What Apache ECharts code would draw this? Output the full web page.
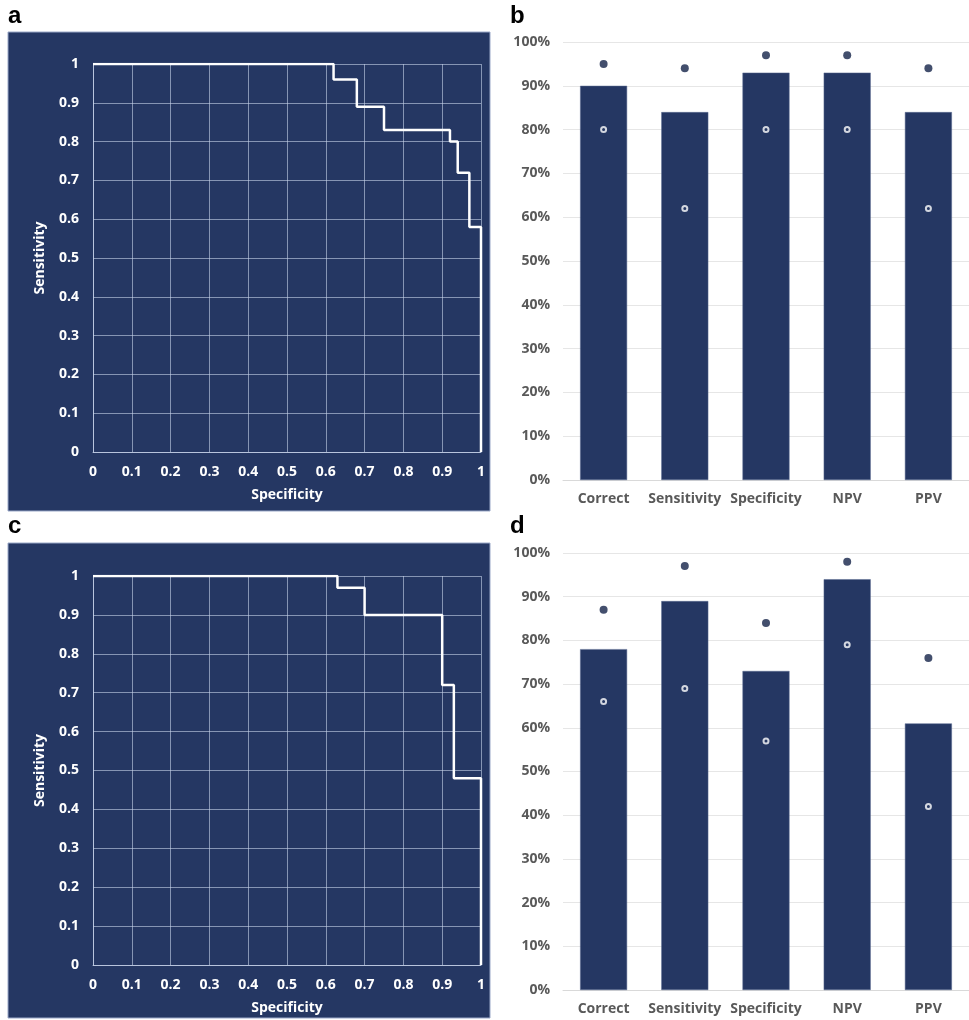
<!DOCTYPE html>
<html><head><meta charset="utf-8">
<script src="https://cdn.jsdelivr.net/npm/echarts@6/dist/echarts.min.js"></script>
<style>html,body{margin:0;padding:0;background:#fff}#c{width:969px;height:1020px}</style>
</head><body><div id="c"></div>
<script>
// ROC curve a (specificity, sensitivity)
const rocA_spec = [0, 0.62, 0.62, 0.68, 0.68, 0.75, 0.75, 0.92, 0.92, 0.94, 0.94, 0.97, 0.97, 1, 1];
const rocA_sens = [1, 1, 0.96, 0.96, 0.89, 0.89, 0.83, 0.83, 0.80, 0.80, 0.72, 0.72, 0.58, 0.58, 0];
// ROC curve c
const rocC_spec = [0, 0.63, 0.63, 0.70, 0.70, 0.90, 0.90, 0.93, 0.93, 1, 1];
const rocC_sens = [1, 1, 0.97, 0.97, 0.90, 0.90, 0.72, 0.72, 0.48, 0.48, 0];
// Bar charts
const categories = ['Correct', 'Sensitivity', 'Specificity', 'NPV', 'PPV'];
const b_values = [90, 84, 93, 93, 84];
const b_upper = [95, 94, 97, 97, 94];
const b_lower = [80, 62, 80, 80, 62];
const d_values = [78, 89, 73, 94, 61];
const d_upper = [87, 97, 84, 98, 76];
const d_lower = [66, 69, 57, 79, 42];

const NAVY = '#253763';
const DOT = '#142348';
const FONT = '"Open Sans"';
const zip = (a, b) => a.map((v, i) => [v, b[i]]);

function rocX(idx) {
  return {
    gridIndex: idx, type: 'value', min: 0, max: 1, interval: 0.1,
    name: 'Specificity', nameLocation: 'middle', nameGap: 36,
    nameTextStyle: {color: '#fff', fontWeight: 'bold', fontSize: 14, fontFamily: FONT},
    axisLine: {show: true, lineStyle: {color: 'rgba(200,212,235,0.75)', width: 1}},
    axisTick: {show: false},
    axisLabel: {color: '#fff', fontWeight: 'bold', fontSize: 14, fontFamily: FONT, margin: 13},
    splitLine: {show: true, lineStyle: {color: 'rgba(200,212,235,0.6)', width: 1}}
  };
}
function rocY(idx) {
  return {
    gridIndex: idx, type: 'value', min: 0, max: 1, interval: 0.1,
    name: 'Sensitivity', nameLocation: 'middle', nameGap: 46,
    nameTextStyle: {color: '#fff', fontWeight: 'bold', fontSize: 14, fontFamily: FONT},
    axisLine: {show: true, lineStyle: {color: 'rgba(200,212,235,0.75)', width: 1}},
    axisTick: {show: false},
    axisLabel: {color: '#fff', fontWeight: 'bold', fontSize: 14, fontFamily: FONT, margin: 14},
    splitLine: {show: true, lineStyle: {color: 'rgba(200,212,235,0.6)', width: 1}}
  };
}
function barX(idx) {
  return {
    gridIndex: idx, type: 'category', data: categories,
    axisLine: {show: true, lineStyle: {color: '#d9d9d9', width: 1}},
    axisTick: {show: false},
    axisLabel: {color: '#595959', fontWeight: 'bold', fontSize: 14, fontFamily: FONT, margin: 12, interval: 0}
  };
}
function barY(idx) {
  return {
    gridIndex: idx, type: 'value', min: 0, max: 100, interval: 10,
    axisLine: {show: false}, axisTick: {show: false},
    axisLabel: {color: '#595959', fontWeight: 'bold', fontSize: 14, fontFamily: FONT, margin: 13, formatter: '{value}%'},
    splitLine: {show: true, lineStyle: {color: '#e6e6e6', width: 1}}
  };
}
function barSeries(idx, vals, up, low) {
  return [
    {type: 'bar', xAxisIndex: idx, yAxisIndex: idx, data: vals, barWidth: 47,
     itemStyle: {color: NAVY, borderColor: '#5a6a90', borderWidth: 0.5}, silent: true},
    {type: 'scatter', xAxisIndex: idx, yAxisIndex: idx, data: up, symbol: 'circle', symbolSize: 8,
     itemStyle: {color: DOT}, z: 5, silent: true},
    {type: 'scatter', xAxisIndex: idx, yAxisIndex: idx, data: low, symbol: 'circle', symbolSize: 5,
     itemStyle: {color: NAVY, borderColor: '#fff', borderWidth: 2}, z: 5, silent: true}
  ];
}
function rocSeries(idx, xs, ys) {
  return {type: 'line', xAxisIndex: idx, yAxisIndex: idx, data: zip(xs, ys), showSymbol: false,
    lineStyle: {color: '#fff', width: 2.5}, z: 5, silent: true};
}

const chart = echarts.init(document.getElementById('c'), null, {renderer: 'canvas'});
chart.setOption({
  animation: false,
  backgroundColor: '#fff',
  graphic: [
    {type: 'rect', z: -10, shape: {x: 8, y: 32, width: 482, height: 479}, style: {fill: NAVY, stroke: '#9aa8c8', lineWidth: 1}},
    {type: 'rect', z: -10, shape: {x: 8, y: 543, width: 482, height: 475}, style: {fill: NAVY, stroke: '#9aa8c8', lineWidth: 1}},
    {type: 'text', left: 8, top: 4, style: {text: 'a', font: 'bold 24px "Liberation Sans", Arial', fill: '#000'}},
    {type: 'text', left: 510, top: 4, style: {text: 'b', font: 'bold 24px "Liberation Sans", Arial', fill: '#000'}},
    {type: 'text', left: 8, top: 514, style: {text: 'c', font: 'bold 24px "Liberation Sans", Arial', fill: '#000'}},
    {type: 'text', left: 510, top: 514, style: {text: 'd', font: 'bold 24px "Liberation Sans", Arial', fill: '#000'}}
  ],
  grid: [
    {left: 93, top: 64, width: 388, height: 388},
    {left: 563, top: 42, width: 420, height: 438},
    {left: 93, top: 576, width: 388, height: 389},
    {left: 563, top: 553, width: 420, height: 437}
  ],
  xAxis: [rocX(0), barX(1), rocX(2), barX(3)],
  yAxis: [rocY(0), barY(1), rocY(2), barY(3)],
  series: [
    rocSeries(0, rocA_spec, rocA_sens),
    ...barSeries(1, b_values, b_upper, b_lower),
    rocSeries(2, rocC_spec, rocC_sens),
    ...barSeries(3, d_values, d_upper, d_lower)
  ]
});
</script></body></html>
